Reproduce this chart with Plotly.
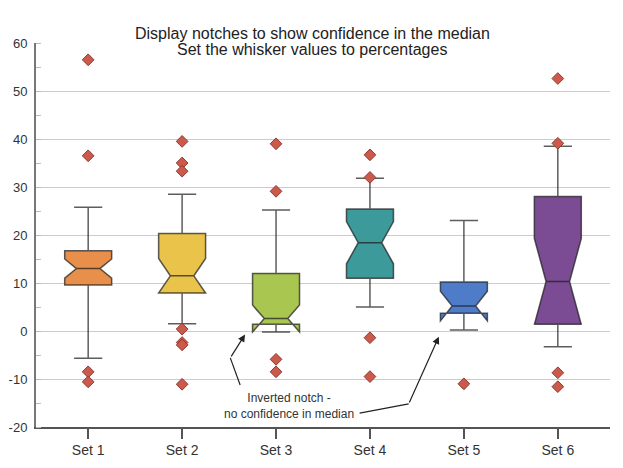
import plotly.graph_objects as go

sets = ["Set 1", "Set 2", "Set 3", "Set 4", "Set 5", "Set 6"]
q1 = [9.6, 7.9, 1.4, 11.0, 3.7, 1.4]
medians = [13.0, 11.5, 2.6, 18.4, 5.2, 10.3]
q3 = [16.7, 20.3, 12.0, 25.4, 10.2, 28.0]
lower_whisker = [-5.7, 1.5, 0.5, 5.0, 0.2, -3.3]
upper_whisker = [25.8, 28.5, 25.2, 31.8, 23.0, 38.5]
notch_span = [2.0, 3.6, 2.8, 4.4, 3.1, 9.0]

outliers = [
    [56.5, 36.5, -8.5, -10.6],
    [39.5, 35.0, 33.3, 0.4, -2.4, -2.9, -11.1],
    [39.0, 29.1, -5.9, -8.5],
    [36.7, 32.0, -1.4, -9.5],
    [-11.0],
    [52.6, 39.1, -8.7, -11.6],
]

y_ticks = [-20, -10, 0, 10, 20, 30, 40, 50, 60]
y_tick_labels = ["-20", "-10", "0", "10", "20", "30", "40", "50", "60"]

colors = ["#E8904B", "#E9C34A", "#A8C650", "#3D9A9B", "#4F7CC8", "#7B4B93"]

fig = go.Figure()

for i, name in enumerate(sets):
    fig.add_trace(go.Box(
        x=[name], q1=[q1[i]], median=[medians[i]], q3=[q3[i]],
        lowerfence=[lower_whisker[i]], upperfence=[upper_whisker[i]],
        notchspan=[notch_span[i]], notched=True, notchwidth=0.25,
        width=0.5, whiskerwidth=0.6, boxpoints=False,
        fillcolor=colors[i],
        line=dict(color="rgba(30,30,30,0.72)", width=1.5),
        showlegend=False,
    ))

# outlier points
ox, oy = [], []
for name, pts in zip(sets, outliers):
    ox += [name] * len(pts)
    oy += pts
fig.add_trace(go.Scatter(
    x=ox, y=oy, mode="markers", showlegend=False,
    marker=dict(symbol="diamond", size=9, color="#CC5A4C",
                line=dict(color="#8E3A30", width=1)),
))

# arrows for the inverted notch note (category index coords)
arrows = [
    # start, bend, head
    ((1.618, -11.25), (1.513, -5.6), (1.670, -0.73)),
    ((2.890, -17.1), (3.412, -15.2), (3.733, -1.19)),
]
for start, bend, head in arrows:
    fig.add_shape(type="line", x0=start[0], y0=start[1], x1=bend[0], y1=bend[1],
                  xref="x", yref="y", line=dict(color="#222222", width=1.2))
    fig.add_annotation(x=head[0], y=head[1], ax=bend[0], ay=bend[1],
                       xref="x", yref="y", axref="x", ayref="y",
                       text="", showarrow=True, arrowhead=2, arrowsize=1.2,
                       arrowwidth=1.2, arrowcolor="#222222")

fig.add_annotation(x=2.137, y=-15.55, xref="x", yref="y", showarrow=False,
                   text="Inverted notch -<br>no confidence in median",
                   font=dict(size=12, color="#333333"))

# two title lines placed separately to get the tight line spacing
fig.add_annotation(x=0.481, y=1.026, xref="paper", yref="paper", showarrow=False,
                   text="Display notches to show confidence in the median",
                   font=dict(size=16, color="#222222"), yanchor="middle")
fig.add_annotation(x=0.481, y=0.982, xref="paper", yref="paper", showarrow=False,
                   text="Set the whisker values to percentages",
                   font=dict(size=16, color="#222222"), yanchor="middle")

# page body has an 8px margin, so the figure is shrunk and shifted to match
fig.update_layout(
    width=615, height=460,
    margin=dict(l=28, r=13, t=35, b=41),
    paper_bgcolor="white", plot_bgcolor="white",
    boxmode="overlay",
    font=dict(family="Liberation Sans, Arial", color="#333333"),
)

fig.update_xaxes(
    type="category", showgrid=False, showline=True, linecolor="#555555", linewidth=2,
    ticks="outside", ticklen=10, tickcolor="#555555", tickwidth=1.5,
    ticklabelstandoff=-1, automargin=False,
    tickfont=dict(size=14, color="#333333"),
)
fig.update_yaxes(
    range=[-20, 60], tickvals=y_ticks, ticktext=y_tick_labels,
    showgrid=True, gridcolor="#CCCCCC", gridwidth=1,
    zeroline=False, showline=True, linecolor="#777777", linewidth=2,
    ticks="", ticklabelstandoff=4, automargin=False,
    tickfont=dict(size=13, color="#333333"),
    minor=dict(dtick=5, ticks="inside", ticklen=5, tickcolor="#BBBBBB", showgrid=False),
)

fig.write_html("out.html")
